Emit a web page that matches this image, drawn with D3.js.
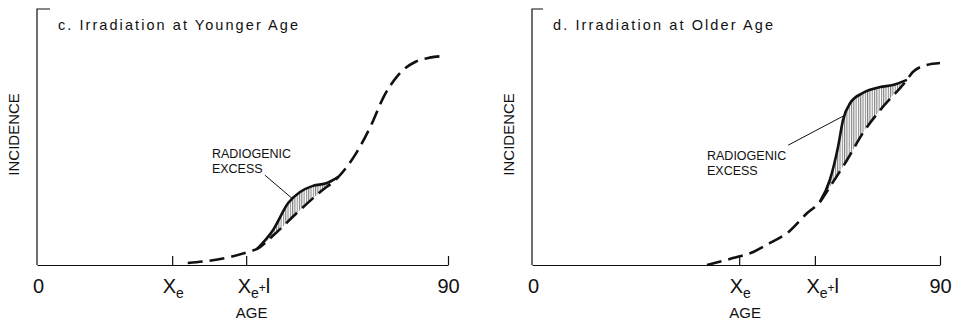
<!DOCTYPE html>
<html><head><meta charset="utf-8">
<script src="https://cdn.jsdelivr.net/npm/d3@7"></script>
<style>
html,body{margin:0;padding:0;background:#fff;}
svg{display:block;font-family:"Liberation Sans",Arial,sans-serif;}
</style></head>
<body><svg id="chart" width="959" height="322"></svg>
<script>
// ---- data ----
const panelTitles = ["c. Irradiation at Younger Age", "d. Irradiation at Older Age"];
const axisLabelX = "AGE";
const axisLabelY = "INCIDENCE";
const excessLabel = ["RADIOGENIC", "EXCESS"];
const tickLabels = ["0", "Xe", "Xe+l", "90"];
// tick ages per panel: 0, Xe, Xe+l, 90
const tickAgesC = [0, 29.6, 45.8, 90];
const tickAgesD = [0, 45.7, 62.4, 90];

// panel c: spontaneous (dashed) incidence curve
const baseAgesC = [33, 37, 42, 46, 48.2, 52, 57, 62, 66, 70, 73, 76, 79, 83, 86, 89];
const baseIncC  = [0.8, 1.5, 3, 5, 6.3, 12, 20.5, 28.5, 34.4, 44, 54, 66, 74, 79.5, 81, 81.6];
// panel c: irradiated (solid) curve over the excess segment
const excAgesC  = [48.2, 51.7, 55.0, 57.6, 60.4, 63.5, 66];
const excIncC   = [6.3, 13.7, 24.2, 28.5, 30.9, 32.0, 34.4];

// panel d: spontaneous (dashed) incidence curve
const baseAgesD = [38.6, 44.3, 48.8, 52.5, 56.3, 60.7, 63.5, 65.7, 69.5, 73.0, 76.8, 82.7, 84, 87.1, 90];
const baseIncD  = [0, 2.7, 5.1, 8.6, 12.5, 20.3, 24.6, 30.5, 41, 51.6, 60.5, 72.3, 75.4, 78.1, 78.9];
// panel d: irradiated (solid) curve over the excess segment
const excAgesD  = [63.5, 65.7, 67.5, 68.6, 70.2, 73.0, 76.8, 79.6, 82.7];
const excIncD   = [24.6, 33.2, 46.1, 56.6, 63.3, 67.2, 69.5, 70.3, 72.3];

// ---- drawing ----
const svg = d3.select("#chart");
const ink = "#111";

const defs = svg.append("defs");
const pat = defs.append("pattern").attr("id","hatch").attr("patternUnits","userSpaceOnUse")
  .attr("width",2.3).attr("height",10);
pat.append("line").attr("x1",0.6).attr("x2",0.6).attr("y1",0).attr("y2",10)
  .attr("stroke","#333").attr("stroke-width",0.75);

const panels = [
  {title: panelTitles[0], xr:[37,448], topTick:13, titleX:58, titleW:240,
   ticks: tickAgesC, baseA: baseAgesC, baseI: baseIncC, excA: excAgesC, excI: excIncC,
   lab:{a:38.3, i:41.8}, leader:[[49.9,35.1],[56.0,25.8]], incX:14},
  {title: panelTitles[1], xr:[532,940], topTick:11, titleX:553, titleW:220,
   ticks: tickAgesD, baseA: baseAgesD, baseI: baseIncD, excA: excAgesD, excI: excIncD,
   lab:{a:38.6, i:41.0}, leader:[[56.5,46.8],[69.0,58.5]], incX:509}
];

panels.forEach(p => {
  const x = d3.scaleLinear().domain([0,90]).range(p.xr);
  const y = d3.scaleLinear().domain([0,100]).range([265, 9]);
  const g = svg.append("g");

  // y axis line with top hook
  g.append("path")
    .attr("d", d3.line()([[x(0)+p.topTick, y(100)],[x(0), y(100)],[x(0), y(0)]]))
    .attr("fill","none").attr("stroke",ink).attr("stroke-width",1.2);

  // x axis
  const ax = d3.axisBottom(x).tickValues(p.ticks).tickSize(-9).tickSizeOuter(0)
    .tickFormat((d,i) => tickLabels[i]);
  const axg = g.append("g").attr("transform",`translate(0,${y(0)})`).call(ax);
  axg.select(".domain").attr("stroke",ink).attr("stroke-width",1.2);
  axg.selectAll(".tick line").attr("stroke",ink).attr("stroke-width",1.2)
    .attr("opacity",(d,i)=> i===0?0:1);
  axg.selectAll(".tick text").each(function(d,i){
    const t = d3.select(this);
    t.text(null).attr("y",28).attr("dy",null).attr("fill",ink)
      .attr("font-size",20).attr("font-family","'Liberation Sans',Arial,sans-serif");
    const lab = tickLabels[i];
    if (lab.startsWith("X")) {
      t.attr("text-anchor","start").attr("x", i===1 ? -10 : -9);
      t.append("tspan").text("X");
      t.append("tspan").attr("font-size",14).attr("dy",5).text("e");
      if (lab.length > 2) {
        t.append("tspan").attr("font-size",12).attr("dy",-6).text("+");
        t.append("tspan").attr("font-size",20).attr("dy",1).text("l");
      }
    } else {
      t.text(lab).attr("text-anchor","middle").attr("x", i===0?1:0);
    }
  });

  // axis titles
  g.append("text").attr("x", x(47)).attr("y", 318).attr("text-anchor","middle")
    .attr("font-size",15).attr("fill",ink).text(axisLabelX);
  g.append("text").attr("transform",`translate(${p.incX+5},${y(51)}) rotate(-90)`)
    .attr("text-anchor","middle").attr("font-size",15).attr("fill",ink).text(axisLabelY);

  // panel title
  g.append("text").attr("x",p.titleX).attr("y",30).attr("font-size",14.5).attr("fill",ink)
    .attr("textLength",p.titleW).attr("lengthAdjust","spacing").text(p.title);

  const line = d3.line().x(d=>x(d[0])).y(d=>y(d[1])).curve(d3.curveMonotoneX);
  const base = p.baseA.map((a,i)=>[a,p.baseI[i]]);
  const exc = p.excA.map((a,i)=>[a,p.excI[i]]);
  const a0 = p.excA[0], a1 = p.excA[p.excA.length-1];
  const baseSeg = base.filter(d => d[0] >= a0 - 1e-6 && d[0] <= a1 + 1e-6);

  // hatched excess region
  const upper = line(exc);
  const lower = line(baseSeg.slice().reverse()) ;
  g.append("path").attr("d", upper + lower.replace(/^M/,"L") + "Z")
    .attr("fill","url(#hatch)").attr("stroke","none");

  // dashed spontaneous curve
  g.append("path").attr("d", line(base)).attr("fill","none").attr("stroke",ink)
    .attr("stroke-width",2.6).attr("stroke-dasharray","15,7");

  // solid irradiated curve
  g.append("path").attr("d", upper).attr("fill","none").attr("stroke",ink)
    .attr("stroke-width",2.6);

  // annotation
  const at = g.append("text").attr("x",x(p.lab.a)).attr("y",y(p.lab.i))
    .attr("font-size",12.5).attr("fill",ink);
  at.append("tspan").attr("x",x(p.lab.a)).text(excessLabel[0]);
  at.append("tspan").attr("x",x(p.lab.a)).attr("dy",15).text(excessLabel[1]);
  g.append("path").attr("d", d3.line().x(d=>x(d[0])).y(d=>y(d[1]))(p.leader))
    .attr("stroke",ink).attr("stroke-width",1).attr("fill","none");
});
</script></body></html>
